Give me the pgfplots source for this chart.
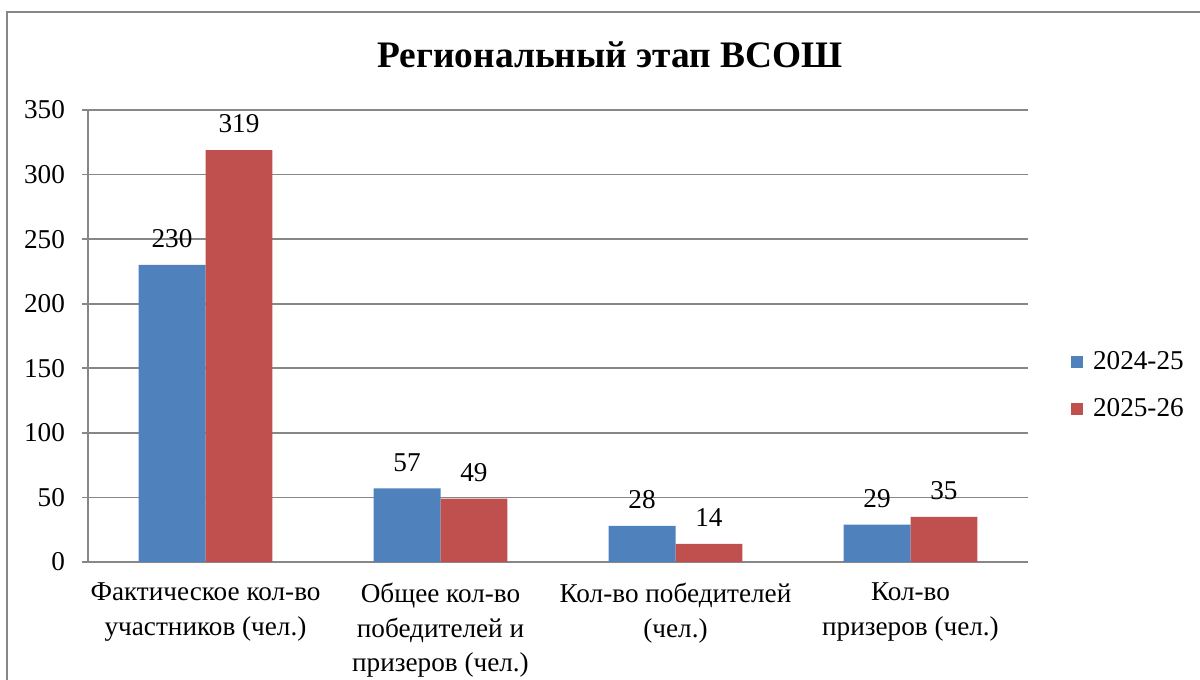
\documentclass[border=0pt]{standalone}
\usepackage{fontspec}
\setmainfont{Liberation Serif}
\usepackage{pgfplots}
\pgfplotsset{compat=1.18}
\definecolor{cblue}{HTML}{4F81BD}
\definecolor{cred}{HTML}{C0504D}
\definecolor{cgrid}{HTML}{878787}
\begin{document}
\begin{tikzpicture}[x=1pt,y=1pt]
\useasboundingbox (0,0) rectangle (600,340);
\draw[cgrid, line width=1pt] (3.5,-5) -- (3.5,334) -- (605,334);
\node[font=\fontsize{18.7}{22}\selectfont\bfseries] at (305,312.5) {Региональный этап ВСОШ};
\begin{axis}[
  at={(44pt,59pt)}, anchor=south west,
  scale only axis, width=470pt, height=226pt,
  ymin=0, ymax=350, ytick={0,50,...,350},
  xmin=-0.5, xmax=3.5,
  xtick={0,1,2,3},
  xticklabels={{Фактическое кол-во\\участников (чел.)},{Общее кол-во\\победителей и\\призеров (чел.)},{Кол-во победителей\\(чел.)},{Кол-во\\призеров (чел.)}},
  xticklabel style={align=center, font=\fontsize{13.6}{17.3}\selectfont, yshift=-4pt},
  yticklabel style={font=\fontsize{13.6}{15}\selectfont, xshift=-5pt},
  /pgf/number format/assume math mode=true,
  axis x line*=bottom, axis y line*=left,
  axis line style={cgrid, line width=1pt, -},
  x axis line style={line width=1.2pt},
  ymajorgrids, grid style={cgrid, line width=0.8pt},
  major tick length=3pt,
  xtick style={draw=none},
  ytick style={cgrid, line width=0.8pt},
  tick align=outside,
  ybar=0pt, bar width=0.285,
  enlarge x limits=false,
  nodes near coords,
  every node near coord/.append style={font=\fontsize{13.6}{15}\selectfont, yshift=5pt, black},
  legend style={draw=none, at={(1.039,0.39)}, anchor=west, font=\fontsize{13.6}{15}\selectfont, row sep=9pt, fill=none,
    /tikz/every even column/.append style={column sep=2pt}},
  legend cell align=left,
  legend image code/.code={\fill[#1] (0pt,-3pt) rectangle (6pt,3pt);},
]
\addplot[draw=none, fill=cblue] coordinates {(0,230) (1,57) (2,28) (3,29)};
\addplot[draw=none, fill=cred] coordinates {(0,319) (1,49) (2,14) (3,35)};
\legend{\hspace{3pt}2024-25,\hspace{3pt}2025-26}
\end{axis}
\end{tikzpicture}
\end{document}
